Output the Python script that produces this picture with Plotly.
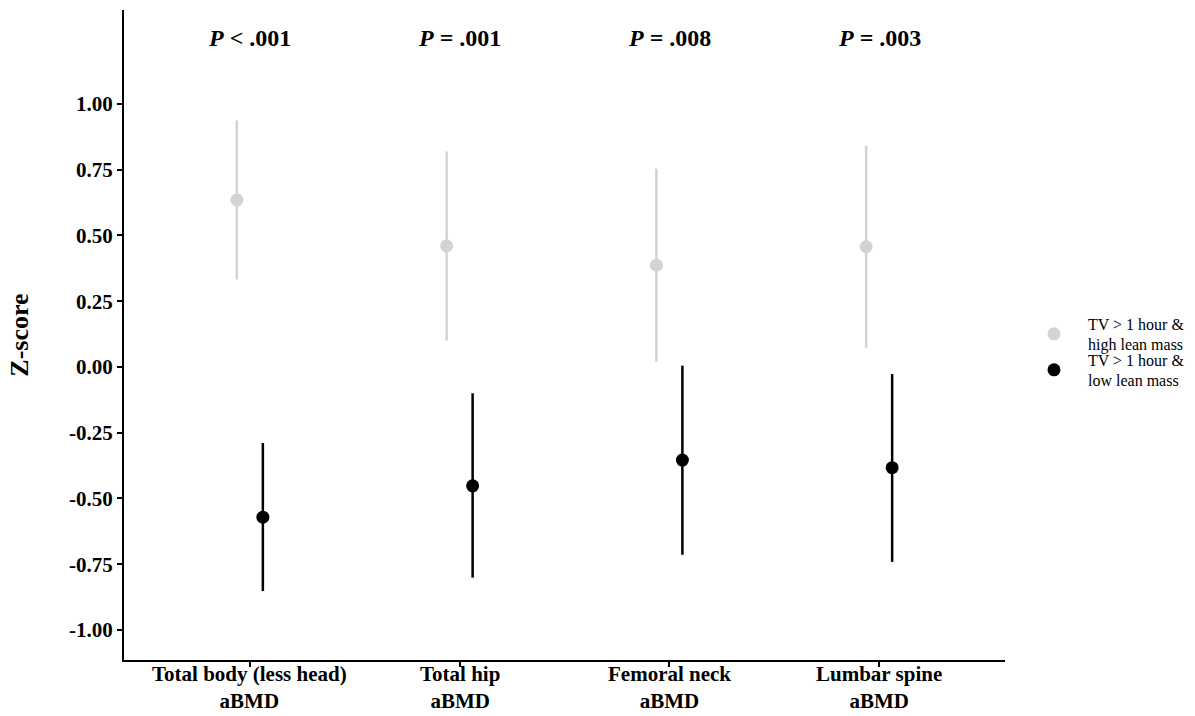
import plotly.graph_objects as go

categories = ["Total body (less head)<br>aBMD", "Total hip<br>aBMD", "Femoral neck<br>aBMD", "Lumbar spine<br>aBMD"]
p_labels = ["<i>P</i> < .001", "<i>P</i> = .001", "<i>P</i> = .008", "<i>P</i> = .003"]

high_name = "TV > 1 hour &<br>high lean mass"
high_mean = [0.635, 0.460, 0.387, 0.457]
high_low = [0.333, 0.100, 0.020, 0.073]
high_up = [0.937, 0.819, 0.754, 0.841]

low_name = "TV > 1 hour &<br>low lean mass"
low_mean = [-0.571, -0.452, -0.354, -0.383]
low_low = [-0.852, -0.801, -0.714, -0.741]
low_up = [-0.289, -0.100, 0.005, -0.027]

y_ticks = [-1.0, -0.75, -0.5, -0.25, 0.0, 0.25, 0.5, 0.75, 1.0]
p_y = 1.25
dodge = 0.062

FONT = "Liberation Serif"
idx = list(range(len(categories)))

fig = go.Figure()
for name, mean, lo, up, color, off, leg in [
    (high_name, high_mean, high_low, high_up, "#D3D3D3", -dodge, "legend"),
    (low_name, low_mean, low_low, low_up, "#000000", dodge, "legend2"),
]:
    fig.add_trace(go.Scatter(
        x=[i + off for i in idx], y=mean, mode="markers", name=name, legend=leg,
        marker=dict(color=color, size=13),
        error_y=dict(type="data", symmetric=False,
                     array=[u - m for u, m in zip(up, mean)],
                     arrayminus=[m - l for m, l in zip(mean, lo)],
                     color=color, thickness=2.5, width=0),
    ))

for i, t in zip(idx, p_labels):
    fig.add_annotation(x=i, y=p_y, text="<b>" + t + "</b>", showarrow=False,
                       font=dict(family=FONT, size=24, color="black"))

# category labels under the axis
for i, c in zip(idx, categories):
    fig.add_annotation(x=i, xref="x", y=0, yref="paper", yanchor="middle",
                       yshift=-27, text="<b>" + c.replace("<br>", "</b><br><b>") + "</b>",
                       showarrow=False, borderpad=0,
                       font=dict(family=FONT, size=21, color="black"))

leg_common = dict(xref="container", yref="container", xanchor="left", yanchor="middle",
                  font=dict(family=FONT, size=16, color="black"),
                  bgcolor="rgba(0,0,0,0)", itemwidth=58)

fig.update_layout(
    width=1195, height=716,
    margin=dict(l=124, r=190, t=10, b=56),
    paper_bgcolor="white", plot_bgcolor="white",
    font=dict(family=FONT, color="black"),
    showlegend=True,
    legend=dict(x=1020 / 1195, y=1 - 334 / 716, **leg_common),
    legend2=dict(x=1020 / 1195, y=1 - 370 / 716, **leg_common),
    xaxis=dict(range=[-0.6, 3.6], tickvals=idx, showticklabels=False, automargin=False,
               showline=True, linecolor="black", linewidth=2, ticks="outside",
               ticklen=5, tickwidth=1.5, tickcolor="black", showgrid=False, zeroline=False),
    yaxis=dict(range=[-1.114, 1.357], tickvals=y_ticks, automargin=False,
               ticktext=["<b>%.2f</b>" % v for v in y_ticks],
               showline=True, linecolor="black", linewidth=2, ticks="outside",
               ticklen=5, tickwidth=1.5, tickcolor="black", showgrid=False, zeroline=False,
               tickfont=dict(family=FONT, size=21, color="black"),
               title=dict(text="<b>Z-score</b>", font=dict(family=FONT, size=26, color="black"),
                          standoff=33)),
)

fig.write_html("out.html")
